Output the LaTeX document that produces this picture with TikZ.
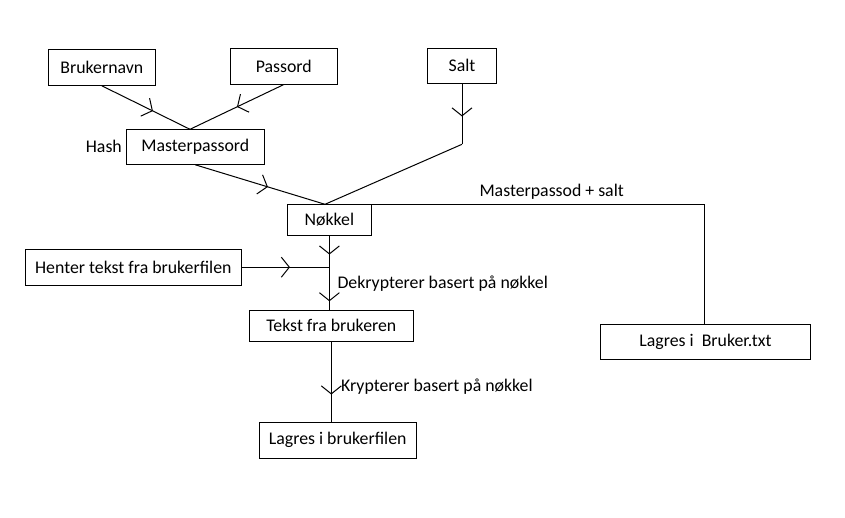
\documentclass[tikz,border=0pt]{standalone}
\usepackage{fontspec}
\setmainfont{Carlito}
\usetikzlibrary{arrows.meta,decorations.markings}
\begin{document}
\begin{tikzpicture}[x=1pt,y=-1pt,
  every node/.style={font=\fontsize{17.8}{20}\selectfont},
  box/.style={draw,line width=1pt,inner sep=0pt,anchor=center},
  lab/.style={inner sep=0pt,anchor=base west},
  conn/.style={line width=1pt},
  midarrow/.style={postaction={decorate},decoration={markings,
     mark=at position #1 with {\arrow{Straight Barb[length=8pt,width=20pt,line width=1pt]}}}}]
\useasboundingbox (0,0) rectangle (845,518);
\fill[white] (0,0) rectangle (845,518);
% boxes
\node[box,minimum width=107pt,minimum height=36pt] (bn) at (101.8,67.3) {Brukernavn};
\node[box,minimum width=107pt,minimum height=35.7pt] (pw) at (283.8,66.2) {Passord};
\node[box,minimum width=69.4pt,minimum height=35pt] (salt) at (462,65.8) {Salt};
\node[box,minimum width=138pt,minimum height=35pt] (mp) at (195.3,146.8) {Masterpassord};
\node[box,minimum width=84.2pt,minimum height=30.7pt] (nk) at (329.4,219.7) {Nøkkel};
\node[box,minimum width=216pt,minimum height=35.7pt] (ht) at (133.3,267.2) {Henter tekst fra brukerfilen};
\node[box,minimum width=164pt,minimum height=30.7pt] (tb) at (331.3,325.7) {Tekst fra brukeren};
\node[box,minimum width=156.7pt,minimum height=36pt] (lf) at (337.7,440.3) {Lagres i brukerfilen};
\node[box,minimum width=209.6pt,minimum height=35pt] (lb) at (705.5,341.8) {Lagres i\ \ Bruker.txt};
% labels
\node[lab] (hash) at (85.7,152.7) {Hash};
\node[lab] (mps) at (479.3,196.7) {Masterpassod + salt};
\node[lab] (dek) at (337.3,288.3) {Dekrypterer basert på nøkkel};
\node[lab] (kry) at (341,391.7) {Krypterer basert på nøkkel};
% junction coordinates
\coordinate (mtop) at (190,129.3);
\coordinate (ntop) at (325,204.3);
\coordinate (sbend) at (462,144.3);
\coordinate (rc) at (704.3,204.3);
\coordinate (j) at (nk.south |- ht.east);
% connectors
\draw[conn,midarrow=0.58] (bn.south) -- (mtop);
\draw[conn,midarrow=0.5] (pw.south) -- (mtop);
\draw[conn,midarrow=0.56] (mp.south) -- (ntop);
\draw[conn,midarrow=0.54] (salt.south) -- (sbend);
\draw[conn] (sbend) -- (ntop);
\draw[conn] (ntop) -- (rc) -- (rc |- lb.north);
\draw[conn,midarrow=0.6] (nk.south) -- (j);
\draw[conn,midarrow=0.55] (ht.east) -- (j);
\draw[conn,midarrow=0.8] (j) -- (j |- tb.north);
\draw[conn,midarrow=0.66] (tb.south) -- (tb.south |- lf.north);
\end{tikzpicture}
\end{document}
